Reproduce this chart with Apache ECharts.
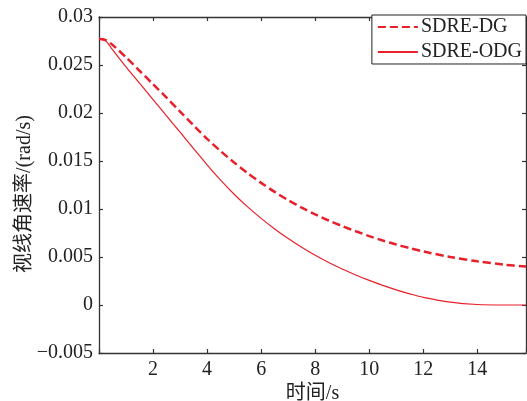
<!DOCTYPE html>
<html>
<head>
<meta charset="utf-8">
<script src="https://cdn.jsdelivr.net/npm/echarts@6/dist/echarts.min.js"></script>
<style>html,body{margin:0;padding:0;background:#fff;}#c{width:527px;height:401px;}</style>
</head>
<body>
<div id="c"></div>
<script>
const times = [0, 0.25, 0.5, 1, 1.5, 2, 2.5, 3, 3.5, 4, 4.5, 5, 5.5, 6, 6.5, 7, 7.5, 8, 8.5, 9, 9.5, 10, 10.5, 11, 11.5, 12, 13, 14, 15, 15.8];
const sdreDG = [0.0277, 0.0276, 0.0271, 0.0258, 0.0244, 0.0230, 0.0216, 0.02015, 0.0187, 0.0173, 0.01603, 0.01484, 0.01374, 0.01272, 0.01178, 0.01092, 0.01014, 0.00944, 0.00880, 0.00822, 0.00768, 0.00718, 0.00672, 0.00630, 0.00592, 0.00558, 0.00500, 0.00455, 0.00420, 0.00400];
const sdreODG = [0.0277, 0.0275, 0.0266, 0.0248, 0.0231, 0.0214, 0.0197, 0.0180, 0.0163, 0.0146, 0.0130, 0.01154, 0.01022, 0.00902, 0.00792, 0.00692, 0.00601, 0.00518, 0.00443, 0.00375, 0.00313, 0.00256, 0.00204, 0.00157, 0.00116, 0.00080, 0.00030, 0.00005, 0.0000, 0.0000];
const seriesNames = ['SDRE-DG', 'SDRE-ODG'];
const xName = '时间/s';
const yName = '视线角速率/(rad/s)';

const FONT = '"Liberation Serif", "Noto Sans CJK SC", serif';
const AXC = '#333';
const RED = '#e8202a';

const chart = echarts.init(document.getElementById('c'));
const xCommon = {
  type: 'value', min: 0, max: 15.8, interval: 2,
  axisLine: {show: true, onZero: false, lineStyle: {color: AXC, width: 1.3}},
  axisTick: {show: true, inside: true, length: 4, lineStyle: {color: AXC, width: 1.2}},
  splitLine: {show: false}
};
const yCommon = {
  type: 'value', min: -0.005, max: 0.03, interval: 0.005,
  axisLine: {show: true, onZero: false, lineStyle: {color: AXC, width: 1.3}},
  axisTick: {show: true, inside: true, length: 4, lineStyle: {color: AXC, width: 1.2}},
  splitLine: {show: false}
};
chart.setOption({
  animation: false,
  backgroundColor: '#fff',
  grid: {left: 99, right: 1, top: 17, bottom: 48, containLabel: false, outerBoundsMode: 'none'},
  legend: {
    data: seriesNames, orient: 'vertical', right: 1, top: 15,
    itemWidth: 40, itemHeight: 14, itemGap: 5,
    padding: [2, 4, 2, 5],
    backgroundColor: '#fff', borderColor: '#222', borderWidth: 1,
    itemStyle: {opacity: 0},
    textStyle: {fontFamily: FONT, fontSize: 20, color: '#222', padding: [0, 0, 0, -2]}
  },
  xAxis: [
    Object.assign({}, xCommon, {
      position: 'bottom',
      name: xName, nameLocation: 'middle', nameGap: 31, nameMoveOverlap: false,
      nameTextStyle: {fontFamily: FONT, fontSize: 20, color: '#222'},
      axisLabel: {show: true, margin: 7, fontFamily: FONT, fontSize: 20, color: '#222',
        formatter: v => (v === 0 || v > 15) ? '' : String(v)}
    }),
    Object.assign({}, xCommon, {position: 'top', axisLabel: {show: false}})
  ],
  yAxis: [
    Object.assign({}, yCommon, {
      position: 'left',
      name: yName, nameLocation: 'middle', nameGap: 64, nameRotate: 90, nameMoveOverlap: false,
      nameTextStyle: {fontFamily: FONT, fontSize: 20, color: '#222', padding: [0, 18, 0, 0]},
      axisLabel: {show: true, margin: 6, fontFamily: FONT, fontSize: 20, color: '#222',
        formatter: v => {
          const r = Math.round(v * 1000) / 1000;
          if (r === 0) return '0';
          const s = String(Math.abs(r));
          return r < 0 ? '\u2212' + s : s;
        }}
    }),
    Object.assign({}, yCommon, {position: 'right', axisLabel: {show: false}})
  ],
  series: [
    {
      name: seriesNames[0], type: 'line', xAxisIndex: 0, yAxisIndex: 0,
      data: times.map((t, i) => [t, sdreDG[i]]),
      symbol: 'none', smooth: 0.3,
      lineStyle: {color: RED, width: 2.5, type: [8, 4]},
      itemStyle: {color: RED}
    },
    {
      name: seriesNames[1], type: 'line', xAxisIndex: 0, yAxisIndex: 0,
      data: times.map((t, i) => [t, sdreODG[i]]),
      symbol: 'none', smooth: 0.3,
      lineStyle: {color: RED, width: 1.2, type: 'solid'},
      itemStyle: {color: RED}
    }
  ]
});
</script>
</body>
</html>
